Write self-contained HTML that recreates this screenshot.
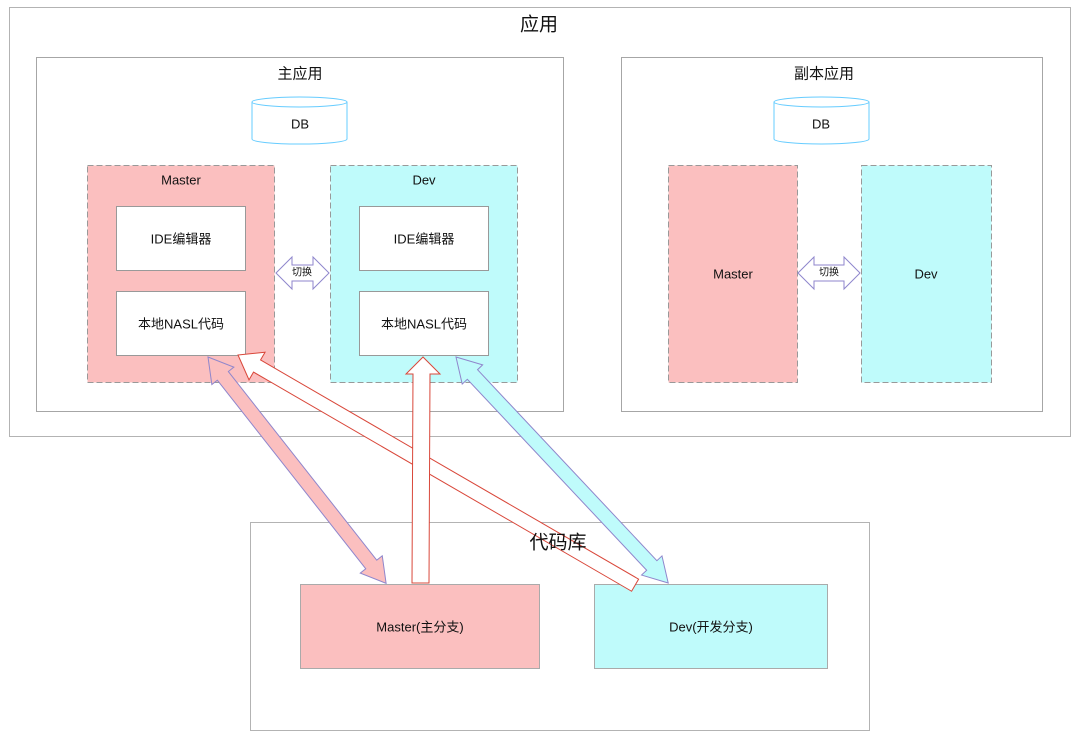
<!DOCTYPE html>
<html><head><meta charset="utf-8"><style>
html,body{margin:0;padding:0;background:#fff;}
svg text{font-family:"Liberation Sans","Noto Sans CJK SC",sans-serif;fill:#111;text-anchor:middle;dominant-baseline:central;}
</style></head><body>
<svg width="1080" height="742" viewBox="0 0 1080 742" xmlns="http://www.w3.org/2000/svg">
<rect x="9.5" y="7.5" width="1061" height="429" fill="#fff" stroke="#b3b3b3"/>
<text x="539" y="25" font-size="19">应用</text>

<rect x="36.5" y="57.5" width="527" height="354" fill="#fff" stroke="#a6a6a6"/>
<text x="300" y="74" font-size="15">主应用</text>
<g fill="#fff" stroke="#66ccff">
<path d="M252,102 v37 a47,5 0 0 0 95,0 v-37"/>
<ellipse cx="299.5" cy="102" rx="47.5" ry="5"/>
</g>
<text x="300" y="124" font-size="13">DB</text>

<rect x="87.5" y="165.5" width="187" height="217" fill="#fbbfbf" stroke="#999" stroke-dasharray="6,3"/>
<text x="181" y="180" font-size="13">Master</text>
<rect x="116.5" y="206.5" width="129" height="64" fill="#fff" stroke="#999"/>
<text x="181" y="239" font-size="13">IDE编辑器</text>
<rect x="116.5" y="291.5" width="129" height="64" fill="#fff" stroke="#999"/>
<text x="181" y="324" font-size="13">本地NASL代码</text>

<rect x="330.5" y="165.5" width="187" height="217" fill="#bffbfb" stroke="#999" stroke-dasharray="6,3"/>
<text x="424" y="180" font-size="13">Dev</text>
<rect x="359.5" y="206.5" width="129" height="64" fill="#fff" stroke="#999"/>
<text x="424" y="239" font-size="13">IDE编辑器</text>
<rect x="359.5" y="291.5" width="129" height="64" fill="#fff" stroke="#999"/>
<text x="424" y="324" font-size="13">本地NASL代码</text>

<path d="M276,273 l16,-16 v8 h21 v-8 l16,16 l-16,16 v-8 h-21 v8 z" fill="#fff" stroke="#8f86cc"/>
<text x="302" y="273" font-size="10">切换</text>

<rect x="621.5" y="57.5" width="421" height="354" fill="#fff" stroke="#a6a6a6"/>
<text x="824" y="74" font-size="15">副本应用</text>
<g fill="#fff" stroke="#66ccff">
<path d="M774,102 v37 a47.5,5 0 0 0 95,0 v-37"/>
<ellipse cx="821.5" cy="102" rx="47.5" ry="5"/>
</g>
<text x="821" y="124" font-size="13">DB</text>
<rect x="668.5" y="165.5" width="129" height="217" fill="#fbbfbf" stroke="#999" stroke-dasharray="6,3"/>
<text x="733" y="274" font-size="13">Master</text>
<rect x="861.5" y="165.5" width="130" height="217" fill="#bffbfb" stroke="#999" stroke-dasharray="6,3"/>
<text x="926" y="274" font-size="13">Dev</text>
<path d="M798,273 l16,-16 v8 h30 v-8 l16,16 l-16,16 v-8 h-30 v8 z" fill="#fff" stroke="#8f86cc"/>
<text x="829" y="273" font-size="10">切换</text>

<rect x="250.5" y="522.5" width="619" height="208" fill="#fff" stroke="#b3b3b3"/>
<rect x="300.5" y="584.5" width="239" height="84" fill="#fbbfbf" stroke="#aaa"/>
<text x="420" y="627" font-size="13">Master(主分支)</text>
<rect x="594.5" y="584.5" width="233" height="84" fill="#bffbfb" stroke="#aaa"/>
<text x="711" y="627" font-size="13">Dev(开发分支)</text>

<g transform="translate(238,355) rotate(30.1)">
<path d="M0,0 L22,-16 L22,-7 L459,-7 L459,7 L22,7 L22,16 Z" fill="#fff" stroke="#d9473a"/>
</g>
<path d="M412,583 L413,374 L406,374 L423,357 L440,374 L430,374 L429,583 Z" fill="#fff" stroke="#d9473a"/>
<g transform="translate(208,357) rotate(51.8)">
<path d="M0,0 L24,-14 L24,-7 L264,-7 L264,-14 L288,0 L264,14 L264,7 L24,7 L24,14 Z" fill="#fbbfbf" stroke="#8f86cc"/>
</g>
<g transform="translate(456,357) rotate(46.8)">
<path d="M0,0 L24,-14 L24,-7 L286,-7 L286,-14 L310,0 L286,14 L286,7 L24,7 L24,14 Z" fill="#bffbfb" stroke="#8f86cc"/>
</g>
<text x="558" y="543" font-size="19">代码库</text>
</svg>
</body></html>
